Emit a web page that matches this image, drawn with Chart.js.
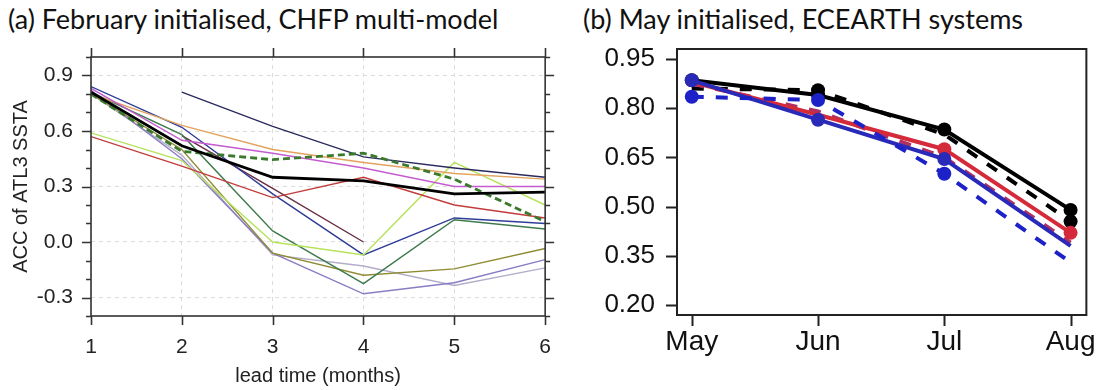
<!DOCTYPE html>
<html><head><meta charset="utf-8">
<script src="https://cdn.jsdelivr.net/npm/chart.js@4.4.0/dist/chart.umd.min.js"></script>
<style>
body{margin:0;background:#fff;width:1106px;height:390px;overflow:hidden;position:relative}
.t{position:absolute;top:2px;font-family:Lato,"Open Sans",sans-serif;font-size:27px;color:#111;white-space:nowrap}
#ca{position:absolute;left:0;top:0;width:570px;height:390px}
#cb{position:absolute;left:570px;top:0;width:536px;height:390px}
</style></head><body>
<div class="t" style="left:8px">(a) February initialised, CHFP multi-model</div>
<div class="t" style="left:583px">(b) May initialised, ECEARTH systems</div>
<canvas id="ca" width="570" height="390"></canvas>
<canvas id="cb" width="536" height="390"></canvas>
<script>
// ---------- Panel (a) data ----------
const leadTimes = [1, 2, 3, 4, 5, 6];
const aYTicks = [-0.4,-0.3,-0.2,-0.1,0,0.1,0.2,0.3,0.4,0.5,0.6,0.7,0.8,0.9,1.0];
const aYMajor = [-0.3, 0, 0.3, 0.6, 0.9];
const mmMean    = [0.81, 0.52, 0.35, 0.33, 0.26, 0.27];
const mmDashed  = [0.80, 0.49, 0.445, 0.48, 0.34, 0.11];
const mNavyLate = [null, 0.81, 0.625, 0.46, 0.40, 0.35];
const mMagenta  = [0.83, 0.55, 0.48, 0.40, 0.30, 0.30];
const mOrange   = [0.80, 0.63, 0.50, 0.43, 0.37, 0.34];
const mRed      = [0.57, 0.41, 0.24, 0.35, 0.20, 0.13];
const mLime     = [0.59, 0.44, 0.00, -0.07, 0.43, 0.20];
const mBlue     = [0.84, 0.62, 0.26, -0.07, 0.13, 0.10];
const mDkGreen  = [0.81, 0.58, 0.06, -0.225, 0.12, 0.07];
const mBrown    = [null, 0.575, 0.29, 0.00, null, null];
const mOlive    = [0.80, 0.50, -0.06, -0.18, -0.145, -0.035];
const mPurple   = [0.82, 0.45, -0.06, -0.28, -0.22, -0.095];
const mGray     = [0.80, 0.47, -0.07, -0.13, -0.235, -0.14];

// ---------- Panel (b) data ----------
const months = ['May', 'Jun', 'Jul', 'Aug'];
const monthPos = [0, 1, 2, 3];
const bYTicks = [0.20, 0.35, 0.50, 0.65, 0.80, 0.95];
const blackSolid = [0.885, 0.84, 0.735, 0.49];
const blackDash  = [0.86, 0.855, 0.72, 0.455];
const redSolid   = [0.88, 0.78, 0.675, 0.42];
const redDash    = [0.875, 0.79, 0.65, 0.39];
const blueSolid  = [0.885, 0.765, 0.645, 0.38];
const blueDash   = [0.835, 0.825, 0.60, 0.33];

const pts = (xs, ys) => xs.map((x, i) => ({x: x, y: ys[i]}));

const frameTicks = {
  id: 'frameTicks',
  afterDatasetsDraw(chart, args, o) {
    const {ctx, chartArea: a, scales} = chart;
    ctx.save();
    ctx.strokeStyle = o.color; ctx.lineWidth = o.width;
    ctx.strokeRect(a.left, a.top, a.right - a.left, a.bottom - a.top);
    ctx.beginPath();
    for (const v of o.xTicks) {
      const px = Math.round(scales.x.getPixelForValue(v)) + 0.5;
      ctx.moveTo(px, a.bottom); ctx.lineTo(px, a.bottom + o.len);
      if (o.top) { ctx.moveTo(px, a.top); ctx.lineTo(px, a.top - o.len); }
    }
    for (const v of o.yTicks) {
      const py = Math.round(scales.y.getPixelForValue(v)) + 0.5;
      const major = o.yMajor.some(m => Math.abs(m - v) < 1e-6);
      const l = major ? o.len : o.minorLen;
      ctx.moveTo(a.left, py); ctx.lineTo(a.left - l, py);
      if (o.right) { ctx.moveTo(a.right, py); ctx.lineTo(a.right + l, py); }
    }
    ctx.stroke();
    ctx.restore();
  }
};

const isMajorA = v => aYMajor.some(m => Math.abs(m - v) < 1e-6);
const thin = (data, color) => ({data: pts(leadTimes, data), borderColor: color, borderWidth: 1.4, pointRadius: 0, fill: false, tension: 0, spanGaps: false});
const FONT = '"Liberation Sans", Arial, sans-serif';

new Chart(document.getElementById('ca'), {
  type: 'line',
  data: {
    datasets: [
      {data: pts(leadTimes, mmMean), borderColor: '#000', borderWidth: 2.8, pointRadius: 0},
      {data: pts(leadTimes, mmDashed), borderColor: '#3a7a2c', borderWidth: 2.8, borderDash: [7, 4], pointRadius: 0},
      thin(mNavyLate, '#2a2a5e'),
      thin(mMagenta, '#c45cd0'),
      thin(mOrange, '#e3a35e'),
      thin(mRed, '#c23c3c'),
      thin(mLime, '#b6e35c'),
      thin(mBlue, '#2e3d98'),
      thin(mDkGreen, '#3f7a4c'),
      thin(mBrown, '#6a2c40'),
      thin(mOlive, '#8f8c34'),
      thin(mPurple, '#8a7cc4'),
      thin(mGray, '#b4adc9')
    ]
  },
  options: {
    responsive: false, animation: false, events: [],
    layout: {padding: {top: 57, right: 16, left: 0, bottom: 0}},
    plugins: {
      legend: {display: false}, tooltip: {enabled: false},
      frameTicks: {color: '#333', width: 1.6, len: 9, minorLen: 5, top: true, right: true,
                   xTicks: leadTimes, yTicks: aYTicks, yMajor: aYMajor}
    },
    scales: {
      x: {
        type: 'linear', min: 1, max: 6,
        afterBuildTicks: s => { s.ticks = leadTimes.map(v => ({value: v})); },
        afterFit: s => { s.height = 74; },
        grid: {drawTicks: false, color: '#dcdcdc', lineWidth: 1},
        border: {display: false, dash: [4, 4]},
        ticks: {autoSkip: false, maxRotation: 0, padding: 19, color: '#222', font: {family: FONT, size: 21}, callback: v => String(v)},
        title: {display: true, text: 'lead time (months)', color: '#222', padding: {top: 0, bottom: 2},
                font: {family: FONT, size: 20}}
      },
      y: {
        type: 'linear', min: -0.4, max: 1.0,
        afterBuildTicks: s => { s.ticks = aYTicks.map(v => ({value: v})); },
        afterFit: s => { s.width = 91; },
        grid: {drawTicks: false, color: c => isMajorA(c.tick.value) ? '#dcdcdc' : 'rgba(0,0,0,0)', lineWidth: 1},
        border: {display: false, dash: [4, 4]},
        ticks: {autoSkip: false, padding: 18, color: '#222', font: {family: FONT, size: 21},
                callback: v => isMajorA(v) ? v.toFixed(1) : ''},
        title: {display: true, text: 'ACC of ATL3 SSTA', color: '#222', padding: {top: 9, bottom: 0},
                font: {family: FONT, size: 20}}
      }
    }
  },
  plugins: [frameTicks]
});

const thick = (data, color, dashed, radii) => ({
  data: pts(monthPos, data), borderColor: color, backgroundColor: color, borderWidth: 4,
  borderDash: dashed ? [12, 12] : [], pointRadius: radii, pointBorderWidth: 0, tension: 0
});

new Chart(document.getElementById('cb'), {
  type: 'line',
  data: {
    datasets: [
      thick(blueDash, '#1d22c8', true, [7, 7, 7, 0]),
      thick(blueSolid, '#2a2ab8', false, [7, 7, 7, 0]),
      thick(redSolid, '#d42a3a', false, [0, 0, 7, 7]),
      thick(redDash, '#b03060', true, [0, 0, 0, 0]),
      thick(blackDash, '#000', true, [0, 7, 0, 7]),
      thick(blackSolid, '#000', false, [7, 7, 7, 7])
    ]
  },
  options: {
    responsive: false, animation: false, events: [],
    layout: {padding: {top: 49, right: 13, left: 0, bottom: 0}},
    plugins: {
      legend: {display: false}, tooltip: {enabled: false},
      frameTicks: {color: '#222', width: 2, len: 11, minorLen: 11, top: false, right: false,
                   xTicks: monthPos, yTicks: bYTicks, yMajor: bYTicks}
    },
    scales: {
      x: {
        type: 'linear', min: -0.117, max: 3.125,
        afterBuildTicks: s => { s.ticks = monthPos.map(v => ({value: v})); },
        afterFit: s => { s.height = 75; },
        grid: {display: false, drawTicks: false},
        border: {display: false},
        ticks: {autoSkip: false, maxRotation: 0, padding: 10, color: '#111', font: {family: FONT, size: 28},
                callback: v => months[monthPos.indexOf(v)]}
      },
      y: {
        type: 'linear', min: 0.1695, max: 0.9805,
        afterBuildTicks: s => { s.ticks = bYTicks.map(v => ({value: v})); },
        afterFit: s => { s.width = 107; },
        grid: {display: false, drawTicks: false},
        border: {display: false},
        ticks: {autoSkip: false, padding: 22, color: '#111', font: {family: FONT, size: 26},
                callback: v => v.toFixed(2)}
      }
    }
  },
  plugins: [frameTicks]
});
</script>
</body></html>
